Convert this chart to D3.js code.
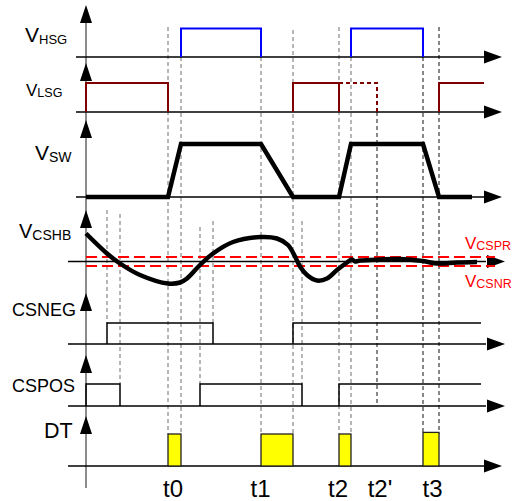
<!DOCTYPE html>
<html>
<head>
<meta charset="utf-8">
<script src="https://cdn.jsdelivr.net/npm/d3@7"></script>
<style>
  html, body { margin: 0; padding: 0; background: #fff; }
  svg { display: block; font-family: "Liberation Sans", Arial, sans-serif; }
</style>
</head>
<body>
<svg id="chart" width="516" height="501"></svg>
<script>
// ---------------- data (time in arbitrary units, 0 = vertical axis) ----------------
const timeLabels = ["t0", "t1", "t2", "t2'", "t3"];
const timeLabelAt = [87, 174.5, 252, 294, 346.5];

// gate drive pulses [start, end]; end = null -> stays high to the end
const hsgPulses = [[95, 175], [265, 337]];
const lsgPulses = [[0, 82], [207, 253], [353, null]];
const lsgDotted = [253, 291];          // extended (dotted) LSG pulse

// switch node trapezoid
const swTimes  = [0, 82, 95, 175, 207, 253, 265, 337, 353, 386];
const swLevels = [0, 0, 1, 1, 0, 0, 1, 1, 0, 0];

// current-sense waveform (relative to zero line)
const cshbTimes  = [0, 21, 34, 54, 82, 94, 101, 114, 127, 147, 174, 191, 202, 209, 214, 221, 231, 241, 251, 261, 266, 269, 274, 294, 314, 337, 351, 371, 391];
const cshbValues = [28, 8, -2, -13.5, -22, -21, -17, -3.5, 8, 19.5, 24.5, 23, 16.5, 5, -5, -13.5, -19, -17, -8.5, -1, 2, 0, 1, 2, 2.5, 0.5, -2, -1, -0.5];
const cspr = 4.5, csnr = -4.5;          // comparator thresholds

const csnegPulses = [[21, 127], [207, null]];
const csposPulses = [[0, 34], [114, 216], [253, null]];

const dtPulses  = [[82, 95], [175, 207], [253, 265], [337, 353]];
const dtHeights = [1, 1, 1, 1.05];

// time markers: [time, from-level, to-level, dark]
const markers = [
  [21, "c210", "csnegHigh", 0], [34, "c214", "csposHigh", 0],
  [82, "hsgHigh", "dtHigh", 0], [95, "hsgBase", "dtHigh", 0],
  [114, "c227", "csposHigh", 0], [127, "c221", "csnegHigh", 0],
  [175, "hsgBase", "dtHigh", 0], [207, "top30", "dtHigh", 0],
  [216, "c221", "csposHigh", 0], [253, "hsgHigh", "dtHigh", 0],
  [265, "hsgBase", "dtHigh", 0], [291, "lsgBase", "csposLow", 1],
  [337, "hsgBase", "dtHigh", 1], [353, "hsgHigh", "dtHigh", 1]
];

// ---------------- layout ----------------
const svg = d3.select("#chart");
const x = d3.scaleLinear().domain([0, 420]).range([86, 506]);
const endT = 395;

const rows = {
  hsg:   { base: 57,    high: 28.5, arrow: 5,   x0: 76 },
  lsg:   { base: 112,   high: 83,   arrow: 63,  x0: 76 },
  sw:    { base: 197,   high: 144,  arrow: 120, x0: 76 },
  cshb:  { base: 261.5,             arrow: 210, x0: 68 },
  csneg: { base: 344,   high: 323,  arrow: 293, x0: 68 },
  cspos: { base: 406,   high: 384,  arrow: 355, x0: 68 },
  dt:    { base: 466,   high: 434,  arrow: 416, x0: 68 }
};
const levelY = {
  hsgHigh: 27, hsgBase: 57, top30: 30, lsgBase: 112,
  c210: 210, c214: 214, c221: 221, c227: 227,
  csnegHigh: 323, csposHigh: 384, csposLow: 403, dtHigh: 434
};
const yLevel = (r) => d3.scaleLinear().domain([0, 1]).range([rows[r].base, rows[r].high]);
const yC = d3.scaleLinear().domain([-10, 10]).range([rows.cshb.base + 10, rows.cshb.base - 10]);

// ---------------- dashed time markers ----------------
svg.append("g").selectAll("line").data(markers).join("line")
  .attr("x1", d => x(d[0])).attr("x2", d => x(d[0]))
  .attr("y1", d => levelY[d[1]]).attr("y2", d => levelY[d[2]])
  .attr("stroke", d => d[3] ? "#111" : "#6e6e6e")
  .attr("stroke-width", 1)
  .attr("stroke-dasharray", "4,3");

// ---------------- axes ----------------
svg.append("line").attr("x1", 86).attr("x2", 86).attr("y1", 10).attr("y2", 488)
  .attr("stroke", "#666").attr("stroke-width", 1.5);

Object.entries(rows).forEach(([k, r]) => {
  svg.append("line").attr("x1", r.x0).attr("x2", 486).attr("y1", r.base).attr("y2", r.base)
    .attr("stroke", "#000").attr("stroke-width", 1.3);
  const tip = (k === "hsg" || k === "lsg" || k === "sw" || k === "dt") ? 502 : 505;
  svg.append("path")
    .attr("d", `M${tip - 18},${r.base - 6.5}L${tip},${r.base}L${tip - 18},${r.base + 6.5}Z`)
    .attr("fill", "#000");
  svg.append("path")
    .attr("d", `M80,${r.arrow + 18}L86,${r.arrow}L92,${r.arrow + 18}Z`)
    .attr("fill", "#000");
});

// ---------------- helpers ----------------
function pulsePath(p, yb, yh) {
  const a = x(p[0]);
  if (p[1] === null) return `M${a},${yb}L${a},${yh}L${x(endT)},${yh}`;
  const b = x(p[1]);
  return `M${a},${yb}L${a},${yh}L${b},${yh}L${b},${yb}`;
}

// V_HSG
const yH = yLevel("hsg");
svg.append("g").selectAll("path").data(hsgPulses).join("path")
  .attr("d", p => pulsePath(p, yH(0), yH(1)))
  .attr("fill", "none").attr("stroke", "#0000ff").attr("stroke-width", 2);

// V_LSG
const yL = yLevel("lsg");
svg.append("g").selectAll("path").data(lsgPulses).join("path")
  .attr("d", p => p[1] === null
      ? `M${x(p[0])},${yL(0)}L${x(p[0])},${yL(1)}L${x(p[0] + 45)},${yL(1)}`
      : pulsePath(p, yL(0), yL(1)))
  .attr("fill", "none").attr("stroke", "#800000").attr("stroke-width", 2);
svg.append("path")
  .attr("d", `M${x(lsgDotted[0])},${yL(1)}L${x(lsgDotted[1])},${yL(1)}L${x(lsgDotted[1])},${yL(0)}`)
  .attr("fill", "none").attr("stroke", "#800000").attr("stroke-width", 2)
  .attr("stroke-dasharray", "4,3");

// V_SW
const yS = yLevel("sw");
svg.append("path")
  .datum(d3.zip(swTimes, swLevels))
  .attr("d", d3.line().x(d => x(d[0])).y(d => yS(d[1])))
  .attr("fill", "none").attr("stroke", "#000").attr("stroke-width", 4.5)
  .attr("stroke-linejoin", "miter");

// V_CSHB thresholds
[cspr, csnr].forEach(v => {
  svg.append("line").attr("x1", x(0)).attr("x2", x(409))
    .attr("y1", yC(v)).attr("y2", yC(v))
    .attr("stroke", "#ff0000").attr("stroke-width", 2)
    .attr("stroke-dasharray", "11,5");
});
// V_CSHB curve
svg.append("path")
  .datum(d3.zip(cshbTimes, cshbValues))
  .attr("d", d3.line().x(d => x(d[0])).y(d => yC(d[1])).curve(d3.curveCatmullRom.alpha(0.5)))
  .attr("fill", "none").attr("stroke", "#000").attr("stroke-width", 4.5)
  .attr("stroke-linecap", "butt");

// CSNEG / CSPOS
const yN = yLevel("csneg"), yP = yLevel("cspos");
svg.append("g").selectAll("path").data(csnegPulses).join("path")
  .attr("d", p => pulsePath(p, yN(0), yN(1)))
  .attr("fill", "none").attr("stroke", "#000").attr("stroke-width", 1.5);
svg.append("g").selectAll("path").data(csposPulses).join("path")
  .attr("d", p => pulsePath(p, yP(0), yP(1)))
  .attr("fill", "none").attr("stroke", "#000").attr("stroke-width", 1.5);

// DT bars
const yD = yLevel("dt");
svg.append("g").selectAll("rect").data(dtPulses).join("rect")
  .attr("x", p => x(p[0])).attr("width", p => x(p[1]) - x(p[0]))
  .attr("y", (p, i) => yD(dtHeights[i])).attr("height", (p, i) => yD(0) - yD(dtHeights[i]))
  .attr("fill", "#ffff00").attr("stroke", "#222").attr("stroke-width", 1.3);

// ---------------- labels ----------------
function sigLabel(px, py, main, sub, fs, sfs, dy, color) {
  const t = svg.append("text").attr("x", px).attr("y", py).attr("fill", color || "#000")
    .style("font-size", fs + "px");
  t.append("tspan").text(main);
  if (sub) t.append("tspan").attr("dy", dy).style("font-size", sfs + "px").text(sub);
}
sigLabel(25, 42, "V", "HSG", 21, 13, 2);
sigLabel(26, 96, "V", "LSG", 17, 12.5, 1);
sigLabel(35, 160, "V", "SW", 21, 14, 2);
sigLabel(19, 238, "V", "CSHB", 20, 14, 2);
sigLabel(12, 316, "CSNEG", null, 18);
sigLabel(12, 392, "CSPOS", null, 18);
sigLabel(44, 438, "DT", null, 21.5);
sigLabel(465, 249, "V", "CSPR", 17, 12.5, 1, "#ff0000");
sigLabel(465, 287, "V", "CSNR", 17, 12.5, 1, "#ff0000");

svg.append("g").selectAll("text").data(timeLabels).join("text")
  .attr("x", (d, i) => x(timeLabelAt[i])).attr("y", 497)
  .attr("text-anchor", "middle").style("font-size", "24px")
  .text(d => d);
</script>
</body>
</html>
